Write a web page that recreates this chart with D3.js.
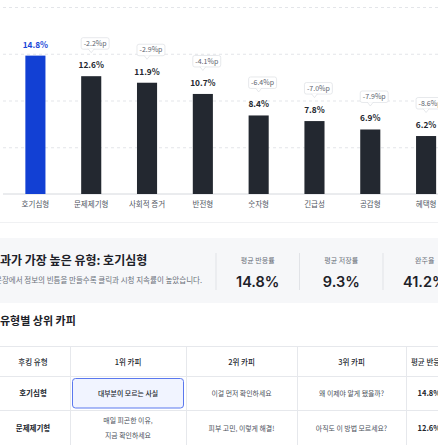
<!DOCTYPE html>
<html>
<head>
<meta charset="utf-8">
<script src="https://cdn.jsdelivr.net/npm/d3@7"></script>
<style>
  body { margin: 0; background: #fff; overflow: hidden; }
  svg { display: block; font-family: "Noto Sans CJK KR", "Noto Sans", sans-serif; }
</style>
</head>
<body>
<div id="page"></div>
<script>
var categories = ["호기심형", "문제제기형", "사회적 증거", "반전형", "숫자형", "긴급성", "공감형", "혜택형"];
var rates = [14.8, 12.6, 11.9, 10.7, 8.4, 7.8, 6.9, 6.2];
var deltas = [null, -2.2, -2.9, -4.1, -6.4, -7.0, -7.9, -8.6];
var yTicks = [5, 10, 15, 20];

var statLabels = ["평균 반응률", "평균 저장률", "완주율"];
var statValues = ["14.8%", "9.3%", "41.2%"];

var tableHeaders = ["후킹 유형", "1위 카피", "2위 카피", "3위 카피", "평균 반응률"];
var tableRows = [
    ["호기심형", "대부분이 모르는 사실", "이걸 먼저 확인하세요", "왜 이제야 알게 됐을까?", "14.8%"],
    ["문제제기형", "매일 피곤한 이유,|지금 확인하세요", "피부 고민, 이렇게 해결!", "아직도 이 방법 모르세요?", "12.6%"]
];

var width = 438,
    height = 445;

var svg = d3.select("#page").append("svg")
    .attr("width", width)
    .attr("height", height);

// ---- bar chart ----
var xScale = d3.scaleBand()
    .domain(categories)
    .range([7.5, 454])
    .paddingInner(0.64)
    .paddingOuter(0.32);

var yScale = d3.scaleLinear()
    .domain([0, 20])
    .range([194, 7]);

var grid = svg.append("g")
    .attr("transform", "translate(3,0)")
    .call(d3.axisLeft(yScale).tickValues(yTicks).tickSize(-width).tickFormat(""));
grid.select(".domain").remove();
grid.selectAll("line")
    .attr("stroke", "#e3e5e9")
    .attr("stroke-dasharray", "3,3");

var xAxis = svg.append("g")
    .attr("transform", "translate(0," + yScale(0) + ")")
    .call(d3.axisBottom(xScale).tickSize(0).tickPadding(7.5));
xAxis.select(".domain").remove();
xAxis.selectAll("text")
    .attr("font-size", "7.5px")
    .attr("fill", "#50565f")
    .attr("font-family", "Noto Sans CJK KR");

svg.append("line")
    .attr("x1", 3)
    .attr("x2", width)
    .attr("y1", yScale(0))
    .attr("y2", yScale(0))
    .attr("stroke", "#d5d8dd");

var bars = svg.selectAll(".bar")
    .data(categories)
    .enter()
    .append("g")
    .attr("class", "bar");

bars.append("rect")
    .attr("x", function(d) { return xScale(d); })
    .attr("width", xScale.bandwidth())
    .attr("y", function(d, i) { return yScale(rates[i]); })
    .attr("height", function(d, i) { return yScale(0) - yScale(rates[i]); })
    .attr("fill", function(d, i) { return i === 0 ? "#1240d4" : "#232830"; });

bars.append("text")
    .attr("x", function(d) { return xScale(d) + xScale.bandwidth() / 2; })
    .attr("y", function(d, i) { return yScale(rates[i]) - 8; })
    .attr("text-anchor", "middle")
    .attr("font-size", "8.3px")
    .attr("font-weight", 700)
    .attr("fill", function(d, i) { return i === 0 ? "#1a47d8" : "#23272e"; })
    .text(function(d, i) { return rates[i].toFixed(1) + "%"; });

// delta callouts
var callouts = bars.filter(function(d, i) { return deltas[i] !== null; })
    .append("g")
    .attr("transform", function(d) {
        var i = categories.indexOf(d);
        return "translate(" + xScale(d) + "," + (yScale(rates[i]) - 27) + ")";
    });

callouts.each(function(d) {
    var i = categories.indexOf(d);
    var g = d3.select(this);
    var cx = xScale.bandwidth() / 2;
    var box = g.append("rect")
        .attr("y", -11.5)
        .attr("height", 11.5)
        .attr("rx", 2)
        .attr("fill", "#fff")
        .attr("stroke", "#dcdfe4")
        .attr("stroke-width", 0.7);
    g.append("path")
        .attr("d", "M" + (cx - 3) + ",-0.3L" + cx + ",3.5L" + (cx + 3) + ",-0.3")
        .attr("fill", "#fff")
        .attr("stroke", "#dcdfe4")
        .attr("stroke-width", 0.7);
    var t = g.append("text")
        .attr("y", -3.4)
        .attr("font-size", "7px")
        .attr("fill", "#5d636d")
        .text(deltas[i].toFixed(1) + "%p");
    var w = t.node().getComputedTextLength() + 5;
    box.attr("width", w);
    t.attr("x", w / 2).attr("text-anchor", "middle");
});

svg.append("line")
    .attr("x1", 0).attr("x2", width)
    .attr("y1", 222.5).attr("y2", 222.5)
    .attr("stroke", "#f0f1f3");

// ---- summary panel ----
svg.append("rect")
    .attr("x", -4).attr("y", 238)
    .attr("width", width + 8).attr("height", 65)
    .attr("fill", "#f6f7f9");

svg.append("text")
    .attr("x", 0).attr("y", 265)
    .attr("font-size", "12px")
    .attr("font-weight", 700)
    .attr("fill", "#1d2128")
    .text("과가 가장 높은 유형: 호기심형");

svg.append("text")
    .attr("x", -5).attr("y", 283)
    .attr("font-size", "7.5px")
    .attr("fill", "#6a707a")
    .text("문장에서 정보의 빈틈을 만들수록 클릭과 시청 지속률이 높았습니다.");

var statX = d3.scaleBand().domain(statLabels).range([216, 216 + 83.5 * 3]);

var stats = svg.selectAll(".stat")
    .data(statLabels)
    .enter()
    .append("g")
    .attr("class", "stat")
    .attr("transform", function(d) { return "translate(" + statX(d) + ",0)"; });

stats.append("line")
    .attr("y1", 253).attr("y2", 290)
    .attr("stroke", "#e1e3e7");

stats.append("text")
    .attr("x", statX.bandwidth() / 2)
    .attr("y", 262.5)
    .attr("text-anchor", "middle")
    .attr("font-size", "7px")
    .attr("fill", "#6a707a")
    .text(function(d) { return d; });

stats.append("text")
    .attr("x", statX.bandwidth() / 2)
    .attr("y", 287)
    .attr("text-anchor", "middle")
    .attr("font-size", "14.5px")
    .attr("font-weight", 600)
    .attr("font-family", "Inter, 'Noto Sans', sans-serif")
    .attr("fill", "#1d2128")
    .text(function(d, i) { return statValues[i]; });

// ---- table ----
svg.append("text")
    .attr("x", 0).attr("y", 325)
    .attr("font-size", "11px")
    .attr("font-weight", 700)
    .attr("fill", "#1d2128")
    .text("유형별 상위 카피");

var colEdges = [-4, 70, 186, 297, 406, 452];
var rowEdges = [346, 376, 410, 446];

var table = svg.append("g").attr("class", "table");

table.selectAll(".hline")
    .data(rowEdges)
    .enter()
    .append("line")
    .attr("x1", -4).attr("x2", width + 20)
    .attr("y1", function(d) { return d + 0.5; })
    .attr("y2", function(d) { return d + 0.5; })
    .attr("stroke", "#e6e8ec");

table.selectAll(".vline")
    .data(colEdges)
    .enter()
    .append("line")
    .attr("x1", function(d) { return d + 0.5; })
    .attr("x2", function(d) { return d + 0.5; })
    .attr("y1", rowEdges[0]).attr("y2", height)
    .attr("stroke", "#e6e8ec");

// highlighted top copy
table.append("rect")
    .attr("x", colEdges[1] + 2.5).attr("y", rowEdges[1] + 2.5)
    .attr("width", colEdges[2] - colEdges[1] - 5)
    .attr("height", rowEdges[2] - rowEdges[1] - 4.5)
    .attr("rx", 3)
    .attr("fill", "#f1f4ff")
    .attr("stroke", "#5b78ee")
    .attr("stroke-width", 1);

function colCenter(j) { return (colEdges[j] + colEdges[j + 1]) / 2; }

table.selectAll(".th")
    .data(tableHeaders)
    .enter()
    .append("text")
    .attr("x", function(d, j) { return colCenter(j); })
    .attr("y", 365)
    .attr("text-anchor", "middle")
    .attr("font-size", "7.5px")
    .attr("font-weight", 500)
    .attr("fill", "#262a31")
    .text(function(d) { return d; });

tableRows.forEach(function(row, r) {
    var mid = (rowEdges[r + 1] + rowEdges[r + 2]) / 2;
    row.forEach(function(cell, j) {
        var lines = cell.split("|");
        var strong = (j === 0 || j === 4);
        var t = table.append("text")
            .attr("text-anchor", "middle")
            .attr("font-size", strong ? "7.5px" : "6.9px")
            .attr("font-weight", strong ? 700 : (r === 0 && j === 1 ? 500 : 400))
            .attr("fill", (strong || (r === 0 && j === 1)) ? "#22262d" : "#4a505a");
        lines.forEach(function(line, k) {
            t.append("tspan")
                .attr("x", colCenter(j))
                .attr("y", mid + 2.5 + (k - (lines.length - 1) / 2) * 14.5)
                .text(line);
        });
    });
});
</script>
</body>
</html>
